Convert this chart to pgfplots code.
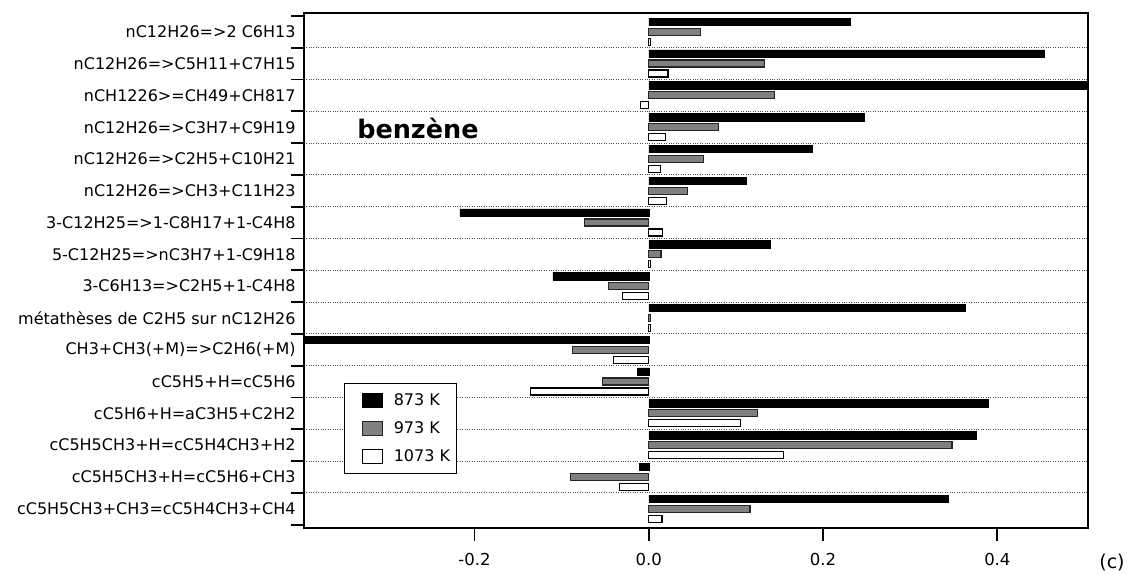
\documentclass[border=0pt]{standalone}
\usepackage{fontspec}
\setmainfont{DejaVu Sans}
\usepackage{pgfplots}
\usepackage{pgfplotstable}
\pgfplotsset{compat=1.18}

\pgfplotstableread{
y black gray white
15 0.231 0.059 0.002
14 0.454 0.133 0.022
13 0.502 0.144 -0.010
12 0.247 0.080 0.019
11 0.187 0.063 0.013
10 0.112 0.044 0.020
9 -0.217 -0.074 0.016
8 0.139 0.014 0.002
7 -0.110 -0.046 -0.030
6 0.363 0.002 0.002
5 -0.420 -0.088 -0.041
4 -0.013 -0.053 -0.136
3 0.390 0.125 0.105
2 0.376 0.348 0.155
1 -0.011 -0.090 -0.034
0 0.344 0.116 0.015
}\data

\begin{document}
\begin{tikzpicture}
\begin{axis}[
  name=ax,
  scale only axis, width=784pt, height=514.5pt,
  xmin=-0.396, xmax=0.504, ymin=-0.594, ymax=15.591,
  axis line style={line width=1.8pt},
  xtick={-0.2,0,0.2,0.4}, xticklabels={-0.2,0.0,0.2,0.4},
  xticklabel style={font=\fontsize{16.5}{19}\selectfont, yshift=-9pt},
  xtick pos=bottom, ytick pos=left,
  tick align=outside,
  major tick length=13pt,
  tick style={black, line width=1.8pt},
  ytick={-0.5,0.5,...,15.5}, yticklabels={,,,,,,,,,,,,,,,,},
  minor ytick={0.5,1.5,...,14.5}, minor tick length=0pt,
  yminorgrids=true,
  minor grid style={black!70, line width=0.8pt, dash pattern=on 1pt off 1.4pt},
  extra y ticks={0,1,...,15},
  extra y tick labels={{cC5H5CH3+CH3=cC5H4CH3+CH4},{cC5H5CH3+H=cC5H6+CH3},{cC5H5CH3+H=cC5H4CH3+H2},{cC5H6+H=aC3H5+C2H2},{cC5H5+H=cC5H6},{CH3+CH3(+M)=>C2H6(+M)},{métathèses de C2H5 sur nC12H26},{3-C6H13=>C2H5+1-C4H8},{5-C12H25=>nC3H7+1-C9H18},{3-C12H25=>1-C8H17+1-C4H8},{nC12H26=>CH3+C11H23},{nC12H26=>C2H5+C10H21},{nC12H26=>C3H7+C9H19},{nCH1226>=CH49+CH817},{nC12H26=>C5H11+C7H15},{nC12H26=>2 C6H13}},
  extra y tick style={major tick length=0pt, yticklabel style={font=\fontsize{16}{19}\selectfont, inner sep=0pt, xshift=-8pt}},
  legend style={at={(axis description cs:0.0514,0.2814)}, anchor=north west, draw=black, line width=1pt, fill=white, font=\fontsize{16}{19}\selectfont, inner xsep=4pt, inner ysep=8.5pt, row sep=10.5pt, /tikz/every odd column/.append style={column sep=9pt}},
  legend cell align=left,
  legend image code/.code={\path (-13pt,0pt); \draw[#1, line width=1.2pt] (0pt,-7pt) rectangle (20pt,7pt);},
]
\addplot[xbar, bar width=7.5pt, bar shift=10pt, fill=black, draw=black, line width=0.5pt] table[x=black,y=y]{\data};
\addplot[xbar, bar width=7pt, bar shift=0pt, fill=gray, draw=black!85, line width=1.2pt] table[x=gray,y=y]{\data};
\addplot[xbar, bar width=7pt, bar shift=-10pt, fill=white, draw=black, line width=1.2pt] table[x=white,y=y]{\data};
\legend{873 K, 973 K, 1073 K}
\node[fill=white, inner sep=3pt, font=\bfseries\fontsize{25.5}{30}\selectfont] at (axis cs:-0.265,11.97) {benzène};
\end{axis}
\node[font=\fontsize{19}{22}\selectfont] at ([shift={(24pt,-35pt)}]ax.south east) {(c)};
\path ([shift={(-303.7pt,-44.5pt)}]ax.south west) rectangle ([shift={(44pt,13pt)}]ax.north east);
\end{tikzpicture}
\end{document}
